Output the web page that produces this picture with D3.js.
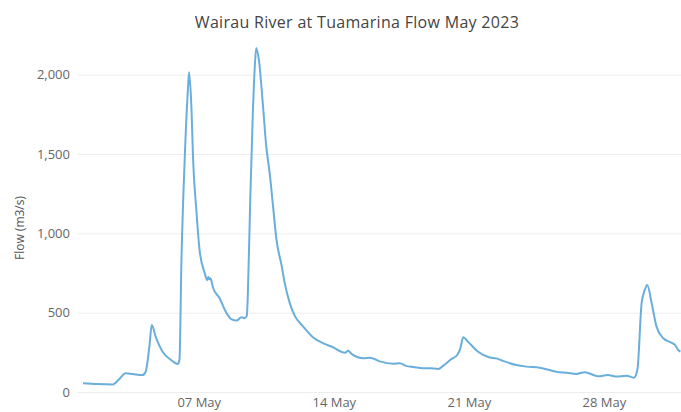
<!DOCTYPE html>
<html>
<head>
<meta charset="utf-8">
<script src="https://cdn.jsdelivr.net/npm/d3@7"></script>
<style>
  body { margin: 0; background: #fff; }
  text { font-family: "Open Sans", sans-serif; }
</style>
</head>
<body>
<div id="chart"></div>
<script>
/* CONSTANTS AND GLOBALS */
const width = 681,
  height = 412,
  margin = { top: 43, bottom: 20, left: 83, right: 0 };

const chartTitle = "Wairau River at Tuamarina Flow May 2023";
const yTitle = "Flow (m3/s)";
const yTicks = [0, 500, 1000, 1500, 2000];
const xTicks = ["2023-05-07", "2023-05-14", "2023-05-21", "2023-05-28"];

// flow readings (m3/s)
const times = [
  "2023-05-01 00:00", "2023-05-01 18:00", "2023-05-02 13:00", "2023-05-02 21:00",
  "2023-05-03 05:00", "2023-05-03 14:00", "2023-05-04 02:00", "2023-05-04 06:00",
  "2023-05-04 11:00", "2023-05-04 13:30", "2023-05-04 19:00", "2023-05-05 03:00",
  "2023-05-05 13:30", "2023-05-05 22:00", "2023-05-06 00:00", "2023-05-06 02:30",
  "2023-05-06 06:30", "2023-05-06 10:45", "2023-05-06 12:00", "2023-05-06 15:00",
  "2023-05-06 17:00", "2023-05-06 21:00", "2023-05-07 01:00", "2023-05-07 07:30",
  "2023-05-07 10:30", "2023-05-07 12:00", "2023-05-07 13:00", "2023-05-07 14:30",
  "2023-05-07 18:00", "2023-05-08 02:00", "2023-05-08 08:30", "2023-05-08 16:30",
  "2023-05-08 23:00", "2023-05-09 05:00", "2023-05-09 09:00", "2023-05-09 11:45",
  "2023-05-09 13:00", "2023-05-09 16:00", "2023-05-09 19:15", "2023-05-09 21:45",
  "2023-05-09 23:30", "2023-05-10 02:45", "2023-05-10 08:00", "2023-05-10 12:00",
  "2023-05-10 16:15", "2023-05-10 20:30", "2023-05-11 00:45", "2023-05-11 07:00",
  "2023-05-11 11:00", "2023-05-11 17:15", "2023-05-11 23:30", "2023-05-12 10:00",
  "2023-05-12 22:00", "2023-05-13 11:00", "2023-05-13 23:00", "2023-05-14 14:00",
  "2023-05-14 18:00", "2023-05-14 22:00", "2023-05-15 12:30", "2023-05-15 21:00",
  "2023-05-16 09:00", "2023-05-17 02:00", "2023-05-17 10:00", "2023-05-17 18:30",
  "2023-05-18 03:00", "2023-05-18 15:00", "2023-05-18 23:30", "2023-05-19 10:00",
  "2023-05-19 16:00", "2023-05-20 01:30", "2023-05-20 09:45", "2023-05-20 13:30",
  "2023-05-20 17:00", "2023-05-20 23:00", "2023-05-21 11:30", "2023-05-22 02:00",
  "2023-05-22 10:00", "2023-05-22 18:30", "2023-05-23 11:15", "2023-05-23 23:45",
  "2023-05-24 16:15", "2023-05-25 03:00", "2023-05-25 13:00", "2023-05-26 02:00",
  "2023-05-26 14:00", "2023-05-27 00:15", "2023-05-27 17:00", "2023-05-28 05:00",
  "2023-05-28 15:00", "2023-05-29 04:15", "2023-05-29 13:15", "2023-05-29 17:45",
  "2023-05-29 23:00", "2023-05-30 03:00", "2023-05-30 06:00", "2023-05-30 11:30",
  "2023-05-30 17:30", "2023-05-31 02:00", "2023-05-31 12:00", "2023-05-31 16:30",
  "2023-05-31 20:30", "2023-05-31 23:15"
];
const flows = [
  55, 50, 48, 80,
  118, 113, 107, 128,
  307, 423, 339, 254,
  202, 177, 202, 833,
  1464, 1926, 2015, 1779,
  1464, 1148, 896, 749,
  705, 725, 710, 717,
  654, 591, 517, 459,
  450, 471, 465, 480,
  600, 1200, 1750, 2052,
  2168, 2095, 1800, 1548,
  1380, 1169, 959, 800,
  686, 560, 480, 412,
  345, 307, 282, 248,
  260, 240, 213, 216,
  193, 178, 182, 163,
  158, 150, 150, 145,
  165, 205, 235, 275,
  345, 317, 254, 218,
  212, 196, 170, 160,
  153, 140, 128, 121,
  114, 125, 99, 107,
  97, 103, 90, 140,
  560, 644, 675, 560,
  412, 339, 311, 297,
  265, 255
];

let svg;
let xScale;
let yScale;

/* INITIALIZING FUNCTION */
function init() {
  const parseTime = d3.timeParse("%Y-%m-%d %H:%M");
  const data = times.map((t, i) => ({ date: parseTime(t), flow: flows[i] }));

  // + SCALES
  xScale = d3.scaleTime()
    .domain([new Date(2023, 4, 1), new Date(2023, 5, 1)])
    .range([margin.left, width - margin.right]);

  yScale = d3.scaleLinear()
    .domain([0, 2200])
    .range([height - margin.bottom, margin.top]);

  svg = d3.select("#chart")
    .append("svg")
    .attr("width", width)
    .attr("height", height);

  // title
  svg.append("text")
    .attr("x", 357)
    .attr("y", 28)
    .attr("text-anchor", "middle")
    .style("font-size", "16px")
    .style("letter-spacing", "0.3px")
    .style("fill", "#444")
    .text(chartTitle);

  // + AXES
  const y = d3.axisLeft(yScale)
    .tickValues(yTicks)
    .tickSize(-(width - margin.left + 5))
    .tickPadding(8)
    .tickFormat(d3.format(","));

  const yAxisGroup = svg.append("g")
    .attr("class", "yAxis")
    .attr("transform", `translate(${margin.left - 5},0)`)
    .call(y);

  yAxisGroup.select(".domain").remove();
  yAxisGroup.selectAll("line")
    .attr("stroke", "#ededed");
  yAxisGroup.selectAll("text")
    .style("font-size", "13px")
    .style("fill", "#666");

  const x = d3.axisBottom(xScale)
    .tickValues(xTicks.map(d => d3.timeParse("%Y-%m-%d")(d)))
    .tickSize(0)
    .tickPadding(6)
    .tickFormat(d3.timeFormat("%d May"));

  const xAxisGroup = svg.append("g")
    .attr("class", "xAxis")
    .attr("transform", `translate(0,${height - margin.bottom})`)
    .call(x);

  xAxisGroup.select(".domain").remove();
  xAxisGroup.selectAll("text")
    .style("font-size", "13px")
    .style("fill", "#666");

  // axis title
  svg.append("text")
    .attr("transform", "translate(24,228) rotate(-90)")
    .attr("text-anchor", "middle")
    .style("font-size", "12px")
    .style("fill", "#555")
    .text(yTitle);

  draw(data);
}

/* DRAW FUNCTION */
function draw(data) {
  const line = d3.line()
    .x(d => xScale(d.date))
    .y(d => yScale(d.flow))
    .curve(d3.curveMonotoneX);

  svg.append("path")
    .datum(data)
    .attr("fill", "none")
    .attr("stroke", "#6aaedc")
    .attr("stroke-width", 2)
    .attr("stroke-linejoin", "round")
    .attr("d", line);
}

init();
</script>
</body>
</html>
